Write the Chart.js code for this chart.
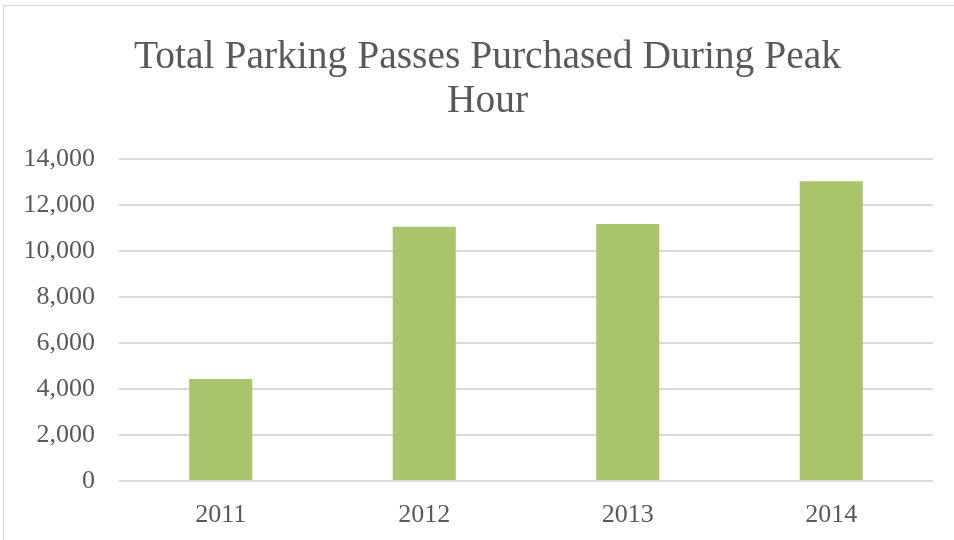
<!DOCTYPE html>
<html>
<head>
<meta charset="utf-8">
<script src="https://cdn.jsdelivr.net/npm/chart.js@4/dist/chart.umd.min.js"></script>
<style>
  html, body { margin: 0; padding: 0; background: #fff; }
  #frame {
    position: absolute; left: 3px; top: 5px; width: 1000px; height: 600px;
    border-left: 1px solid #d9d9d9; border-top: 1px solid #d9d9d9;
  }
  #wrap { position: absolute; left: 0; top: 0; width: 954px; height: 540px; }
</style>
</head>
<body>
<div id="frame"></div>
<div id="wrap"><canvas id="chart"></canvas></div>
<script>
const years = ["2011", "2012", "2013", "2014"];
const passes = [4430, 11050, 11170, 13030];
const titleLines = ["Total Parking Passes Purchased During Peak", "Hour"];

const textColor = "#595959";
const barColor = "#a9c46b";
const gridColor = "#d9d9d9";
const serif = "'Liberation Serif', 'DejaVu Serif', serif";

function fmtInt(n) {
  return new Intl.NumberFormat("en-US", { maximumFractionDigits: 0 }).format(n);
}

new Chart(document.getElementById("chart"), {
  type: "bar",
  data: {
    labels: years,
    datasets: [
      {
        label: "Passes",
        data: passes,
        backgroundColor: barColor,
        borderWidth: 0,
        barPercentage: 1,
        categoryPercentage: 0.31
      }
    ]
  },
  options: {
    responsive: true,
    maintainAspectRatio: false,
    animation: false,
    layout: { padding: { left: 22, right: 1, top: 0, bottom: 0 } },
    plugins: {
      legend: { display: false },
      tooltip: { enabled: false },
      title: {
        display: true,
        text: titleLines,
        color: textColor,
        font: { family: serif, size: 39.5, weight: "normal", lineHeight: 1.114 },
        padding: { top: 36, bottom: 35 }
      }
    },
    scales: {
      x: {
        grid: { display: false },
        border: { display: false },
        ticks: { color: textColor, font: { family: serif, size: 26 }, padding: 11 },
        afterFit: (scale) => { scale.height = 59; }
      },
      y: {
        min: 0,
        max: 14000,
        grid: { color: gridColor, lineWidth: 2, drawTicks: false },
        border: { display: false },
        ticks: {
          stepSize: 2000,
          color: textColor,
          font: { family: serif, size: 26 },
          padding: 24,
          callback: (v) => fmtInt(v)
        },
        afterFit: (scale) => { scale.width = 97; }
      },
      // empty right-hand spacer so the title centres like the original
      spacer: {
        position: "right",
        display: true,
        grid: { display: false },
        border: { display: false },
        ticks: { display: false },
        afterFit: (scale) => { scale.width = 20; }
      }
    }
  }
});
</script>
</body>
</html>
